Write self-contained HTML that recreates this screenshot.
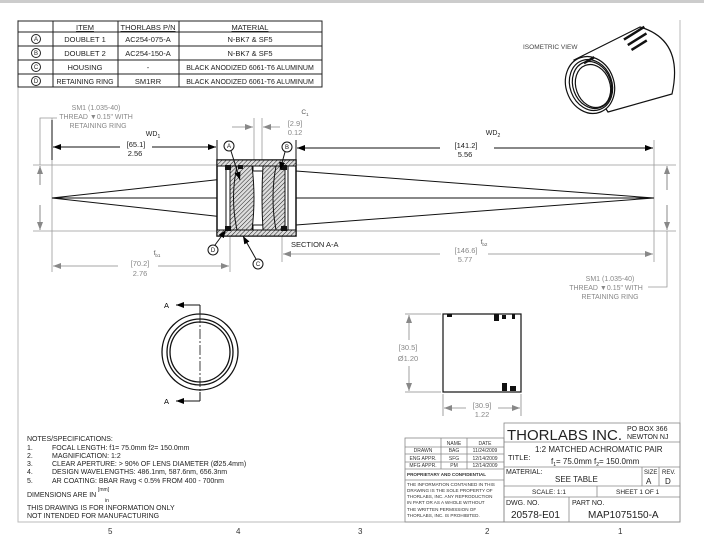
<!DOCTYPE html>
<html><head><meta charset="utf-8"><style>
html,body{margin:0;padding:0;background:#fff;}
svg{display:block;font-family:"Liberation Sans",sans-serif;}
</style></head><body>
<svg width="704" height="543" viewBox="0 0 704 543" xmlns="http://www.w3.org/2000/svg">
<defs>
<pattern id="h" width="3" height="3" patternUnits="userSpaceOnUse" patternTransform="rotate(45)">
<rect width="3" height="3" fill="#ddd"/><line x1="0" y1="0" x2="0" y2="3" stroke="#222" stroke-width="1"/></pattern>
<marker id="ab" markerWidth="8" markerHeight="6" refX="8" refY="3" orient="auto" markerUnits="userSpaceOnUse"><path d="M0,0 L8,3 L0,6z" fill="#000"/></marker>
<marker id="ag" markerWidth="8" markerHeight="6" refX="8" refY="3" orient="auto" markerUnits="userSpaceOnUse"><path d="M0,0 L8,3 L0,6z" fill="#888"/></marker>
</defs>
<rect x="0" y="0" width="704" height="3" fill="#ccc"/>
<!-- frame -->
<path d="M18,20 V522 H680 V20" fill="none" stroke="#bbb" stroke-width="1"/>
<g font-size="8" fill="#333"><text x="108" y="534">5</text><text x="236" y="534">4</text><text x="358" y="534">3</text><text x="485" y="534">2</text><text x="618" y="534">1</text></g>

<!-- parts table -->
<g stroke="#222" stroke-width="1" fill="none">
<rect x="18" y="21" width="304" height="66"/>
<line x1="18" y1="32" x2="322" y2="32"/><line x1="18" y1="46" x2="322" y2="46"/><line x1="18" y1="60" x2="322" y2="60"/><line x1="18" y1="74" x2="322" y2="74"/>
<line x1="53" y1="21" x2="53" y2="87"/><line x1="118" y1="21" x2="118" y2="87"/><line x1="179" y1="21" x2="179" y2="87"/>
<circle cx="36" cy="39" r="4.5"/><circle cx="36" cy="53" r="4.5"/><circle cx="36" cy="67" r="4.5"/><circle cx="36" cy="81" r="4.5"/>
</g>
<g font-size="7.5" fill="#222" text-anchor="middle">
<text x="85" y="30" text-decoration="underline">ITEM</text><text x="148" y="30" text-decoration="underline">THORLABS P/N</text><text x="250" y="30" text-decoration="underline">MATERIAL</text>
<text x="85" y="42">DOUBLET 1</text><text x="148" y="42">AC254-075-A</text><text x="250" y="42">N-BK7 &amp; SF5</text>
<text x="85" y="56">DOUBLET 2</text><text x="148" y="56">AC254-150-A</text><text x="250" y="56">N-BK7 &amp; SF5</text>
<text x="85" y="70">HOUSING</text><text x="148" y="70">-</text><text x="250" y="70" font-size="7">BLACK ANODIZED 6061-T6 ALUMINUM</text>
<text x="85" y="84" font-size="7">RETAINING RING</text><text x="148" y="84">SM1RR</text><text x="250" y="84" font-size="7">BLACK ANODIZED 6061-T6 ALUMINUM</text>
<g font-size="6"><text x="36" y="41">A</text><text x="36" y="55">B</text><text x="36" y="69">C</text><text x="36" y="83">D</text></g>
</g>

<!-- isometric -->
<text x="523" y="49" font-size="6.5" fill="#444">ISOMETRIC VIEW</text>
<g stroke="#111" fill="#fff" stroke-width="1.2">
<path d="M574,60 L640,27 Q684,40 672,94 L608,112 Z"/>
<ellipse cx="590" cy="85" rx="24" ry="29" transform="rotate(-20 590 85)"/>
<ellipse cx="591" cy="85" rx="21" ry="26" transform="rotate(-20 591 85)"/>
<ellipse cx="592" cy="85" rx="19" ry="24" transform="rotate(-20 592 85)"/>
<ellipse cx="593" cy="86" rx="17" ry="22" transform="rotate(-20 593 86)"/>
</g>
<g fill="#111">
<rect x="622" y="32" width="24" height="2.5" transform="rotate(-32 634 33)"/>
<rect x="626" y="38" width="22" height="2.5" transform="rotate(-32 637 39)"/>
<rect x="630" y="44" width="18" height="2.5" transform="rotate(-32 639 45)"/>
<rect x="583" y="59" width="12" height="2.5" transform="rotate(-30 589 60)"/>
</g>

<!-- main section lines -->
<g stroke="#999" stroke-width="0.8">
<line x1="33" y1="165" x2="676" y2="165"/><line x1="33" y1="231" x2="676" y2="231"/>
<line x1="52" y1="118" x2="52" y2="272"/><line x1="654" y1="140" x2="654" y2="262"/>
<line x1="230" y1="236" x2="230" y2="272"/><line x1="282" y1="236" x2="282" y2="262"/>
<line x1="254" y1="118" x2="254" y2="165"/><line x1="262" y1="118" x2="262" y2="165"/>
<path d="M57,118 H40 V165" fill="none"/>
<path d="M648,287 H667 V231" fill="none"/>
</g>
<line x1="40" y1="185" x2="40" y2="166" stroke="#888" marker-end="url(#ag)"/>
<line x1="40" y1="205" x2="40" y2="230" stroke="#888" marker-end="url(#ag)"/>
<line x1="667" y1="190" x2="667" y2="166" stroke="#888" marker-end="url(#ag)"/>
<line x1="667" y1="205" x2="667" y2="230" stroke="#888" marker-end="url(#ag)"/>
<!-- rays -->
<g stroke="#111" stroke-width="1" fill="none">
<line x1="52" y1="198" x2="654" y2="198"/>
<path d="M52,198 L296,171 L654,198 L296,225 Z"/>
</g>
<!-- WD1 / WD2 dims -->
<g stroke="#111" stroke-width="1">
<line x1="52" y1="120" x2="52" y2="160"/><line x1="217" y1="140" x2="217" y2="160"/>
<line x1="120" y1="147" x2="53" y2="147" marker-end="url(#ab)"/><line x1="152" y1="147" x2="216" y2="147" marker-end="url(#ab)"/>
<line x1="296" y1="140" x2="296" y2="160"/>
<line x1="440" y1="148" x2="297" y2="148" marker-end="url(#ab)"/><line x1="494" y1="148" x2="653" y2="148" marker-end="url(#ab)"/>
</g>
<g font-size="7.5" fill="#222" text-anchor="middle">
<text x="136" y="147">[65.1]</text><text x="135" y="156">2.56</text>
<text x="466" y="148">[141.2]</text><text x="465" y="157">5.56</text>
<text x="153" y="136" font-size="7">WD<tspan font-size="5" dy="2">1</tspan></text>
<text x="493" y="135" font-size="7">WD<tspan font-size="5" dy="2">2</tspan></text>
</g>
<!-- fb dims gray -->
<g stroke="#888" stroke-width="0.8">
<line x1="118" y1="266" x2="53" y2="266" marker-end="url(#ag)"/><line x1="158" y1="266" x2="229" y2="266" marker-end="url(#ag)"/>
<line x1="440" y1="254" x2="283" y2="254" marker-end="url(#ag)"/><line x1="488" y1="254" x2="653" y2="254" marker-end="url(#ag)"/>
<line x1="232" y1="127" x2="253" y2="127" marker-end="url(#ag)"/><line x1="280" y1="127" x2="263" y2="127" marker-end="url(#ag)"/>
</g>
<g font-size="7.5" fill="#888" text-anchor="middle">
<text x="140" y="266">[70.2]</text><text x="140" y="276">2.76</text>
<text x="466" y="253">[146.6]</text><text x="465" y="262">5.77</text>
<text x="295" y="126">[2.9]</text><text x="295" y="135">0.12</text>
<text x="96" y="110" font-size="7">SM1 (1.035-40)</text><text x="96" y="119" font-size="7">THREAD ▼0.15" WITH</text><text x="98" y="128" font-size="7">RETAINING RING</text>
<text x="610" y="281" font-size="7">SM1 (1.035-40)</text><text x="606" y="290" font-size="7">THREAD ▼0.15" WITH</text><text x="610" y="299" font-size="7">RETAINING RING</text>
</g>
<g font-size="6.5" fill="#555" text-anchor="middle"><text x="157" y="255">f<tspan font-size="4.5" dy="2">b1</tspan></text><text x="484" y="244">f<tspan font-size="4.5" dy="2">b2</tspan></text><text x="305" y="114">C<tspan font-size="4.5" dy="2">1</tspan></text></g>

<!-- housing section -->
<rect x="217" y="160" width="79" height="76" fill="#fff" stroke="#111" stroke-width="1.5"/>
<rect x="217" y="160" width="79" height="6" fill="url(#h)" stroke="#111"/>
<rect x="217" y="230" width="79" height="6" fill="url(#h)" stroke="#111"/>
<rect x="253" y="166" width="10" height="5" fill="#fff" stroke="#111"/>
<rect x="253" y="225" width="10" height="5" fill="#fff" stroke="#111"/>
<path d="M230,166 H252 Q256,198 252,230 H230 Z" fill="url(#h)" stroke="#111"/>
<path d="M263,166 H285 V230 H263 Q261,198 263,166 Z" fill="url(#h)" stroke="#111"/>
<path d="M237,166 Q230,198 237,230 M276,166 Q270,198 276,230" fill="none" stroke="#111"/>
<line x1="226" y1="166" x2="226" y2="230" stroke="#111"/><line x1="288" y1="166" x2="288" y2="230" stroke="#111"/>
<g fill="#111"><rect x="225" y="165" width="6" height="5"/><rect x="225" y="226" width="6" height="5"/><rect x="281" y="165" width="6" height="5"/><rect x="281" y="226" width="6" height="5"/><rect x="238" y="165" width="5" height="4"/></g>
<g stroke="#111" fill="#fff">
<circle cx="229" cy="146" r="5"/><circle cx="287" cy="147" r="5"/><circle cx="213" cy="250" r="5"/><circle cx="258" cy="264" r="5"/>
<line x1="231" y1="151" x2="240" y2="180" marker-end="url(#ab)"/><line x1="285" y1="152" x2="280" y2="170" marker-end="url(#ab)"/>
<line x1="215" y1="245" x2="226" y2="230" marker-end="url(#ab)"/><line x1="256" y1="259" x2="243" y2="236" marker-end="url(#ab)"/>
</g>
<g font-size="6" text-anchor="middle" fill="#111"><text x="229" y="148">A</text><text x="287" y="149">B</text><text x="213" y="252">D</text><text x="258" y="266">C</text></g>
<text x="291" y="247" font-size="7.5" fill="#222">SECTION A-A</text>

<!-- front ring view -->
<g stroke="#111" fill="none" stroke-width="1.3">
<circle cx="200" cy="352" r="38"/><circle cx="200" cy="352" r="33"/><circle cx="200" cy="352" r="30"/>
<path d="M200,305 V313 M200,392 V401" stroke-width="1"/>
<line x1="200" y1="313" x2="200" y2="392" stroke-width="0.8" stroke-dasharray="10,2,2,2"/>
<line x1="200" y1="305" x2="176" y2="305" stroke-width="1" marker-end="url(#ab)"/>
<line x1="200" y1="401" x2="176" y2="401" stroke-width="1" marker-end="url(#ab)"/>
</g>
<text x="164" y="308" font-size="7.5">A</text><text x="164" y="404" font-size="7.5">A</text>

<!-- side view -->
<rect x="443" y="314" width="78" height="78" fill="#fff" stroke="#111" stroke-width="1.2"/>
<g fill="#111"><rect x="447" y="314" width="5" height="3"/><rect x="494" y="314" width="5" height="7"/><rect x="502" y="315" width="4" height="4"/><rect x="512" y="314" width="3" height="5"/><rect x="502" y="383" width="5" height="8"/><rect x="510" y="386" width="6" height="5"/></g>
<g stroke="#888" stroke-width="0.8">
<line x1="405" y1="314" x2="441" y2="314"/><line x1="405" y1="392" x2="441" y2="392"/>
<line x1="443" y1="394" x2="443" y2="416"/><line x1="521" y1="394" x2="521" y2="416"/>
<line x1="409" y1="340" x2="409" y2="315" marker-end="url(#ag)"/><line x1="409" y1="366" x2="409" y2="391" marker-end="url(#ag)"/>
<line x1="466" y1="408" x2="444" y2="408" marker-end="url(#ag)"/><line x1="498" y1="408" x2="520" y2="408" marker-end="url(#ag)"/>
</g>
<g font-size="7.5" fill="#888" text-anchor="middle"><text x="408" y="350">[30.5]</text><text x="408" y="361">Ø1.20</text><text x="482" y="408">[30.9]</text><text x="482" y="417">1.22</text></g>

<!-- notes -->
<g font-size="7" fill="#222">
<text x="27" y="441">NOTES/SPECIFICATIONS:</text>
<text x="27" y="450">1.</text><text x="52" y="450">FOCAL LENGTH: f1= 75.0mm   f2= 150.0mm</text>
<text x="27" y="458">2.</text><text x="52" y="458">MAGNIFICATION:  1:2</text>
<text x="27" y="466">3.</text><text x="52" y="466">CLEAR APERTURE: &gt; 90% OF LENS DIAMETER (Ø25.4mm)</text>
<text x="27" y="474">4.</text><text x="52" y="474">DESIGN WAVELENGTHS: 486.1nm, 587.6nm, 656.3nm</text>
<text x="27" y="483">5.</text><text x="52" y="483">AR COATING: BBAR Ravg &lt; 0.5% FROM 400 - 700nm</text>
<text x="27" y="497">DIMENSIONS ARE IN</text><text x="98" y="491" font-size="5">[mm]</text><text x="105" y="502" font-size="5">in</text>
<text x="27" y="510">THIS DRAWING IS FOR INFORMATION ONLY</text>
<text x="27" y="518">NOT INTENDED FOR MANUFACTURING</text>
</g>

<!-- title block -->
<g stroke="#888" stroke-width="0.8" fill="none">
<rect x="405" y="438" width="99" height="84"/>
<line x1="405" y1="447" x2="504" y2="447"/><line x1="405" y1="454" x2="504" y2="454"/><line x1="405" y1="462" x2="504" y2="462"/><line x1="405" y1="469" x2="504" y2="469"/><line x1="405" y1="480" x2="504" y2="480"/>
<line x1="441" y1="438" x2="441" y2="469"/><line x1="467" y1="438" x2="467" y2="469"/>
<rect x="504" y="423" width="176" height="99"/>
<line x1="504" y1="442" x2="680" y2="442"/><line x1="504" y1="467" x2="680" y2="467"/><line x1="504" y1="486" x2="680" y2="486"/><line x1="504" y1="497" x2="680" y2="497"/>
<line x1="642" y1="467" x2="642" y2="486"/><line x1="659" y1="467" x2="659" y2="486"/><line x1="597" y1="486" x2="597" y2="497"/><line x1="569" y1="497" x2="569" y2="522"/>
</g>
<g font-size="5" fill="#333" text-anchor="middle">
<text x="454" y="445">NAME</text><text x="485" y="445">DATE</text>
<text x="423" y="452">DRAWN</text><text x="454" y="452">BAG</text><text x="485" y="452">11/24/2009</text>
<text x="423" y="460">ENG APPR.</text><text x="454" y="460">SFG</text><text x="485" y="460">12/14/2009</text>
<text x="423" y="467">MFG APPR.</text><text x="454" y="467">PM</text><text x="485" y="467">12/14/2009</text>
</g>
<g font-size="4.6" fill="#333">
<text x="407" y="476" font-weight="bold">PROPRIETARY AND CONFIDENTIAL</text>
<text x="407" y="486">THE INFORMATION CONTAINED IN THIS</text><text x="407" y="492">DRAWING IS THE SOLE PROPERTY OF</text><text x="407" y="498">THORLABS, INC.  ANY REPRODUCTION</text><text x="407" y="504">IN PART OR AS A WHOLE WITHOUT</text><text x="407" y="511">THE WRITTEN PERMISSION OF</text><text x="407" y="517">THORLABS, INC. IS PROHIBITED.</text>
</g>
<g fill="#222">
<text x="507" y="440" font-size="15">THORLABS INC.</text>
<text x="627" y="431" font-size="7">PO BOX 366</text><text x="627" y="439" font-size="7">NEWTON NJ</text>
<text x="508" y="460" font-size="7.5">TITLE:</text>
<text x="535" y="452" font-size="8">1:2 MATCHED ACHROMATIC PAIR</text>
<text x="551" y="464" font-size="8">f<tspan font-size="5" dy="2">1</tspan><tspan dy="-2">= 75.0mm  f</tspan><tspan font-size="5" dy="2">2</tspan><tspan dy="-2">= 150.0mm</tspan></text>
<text x="506" y="474" font-size="7">MATERIAL:</text>
<text x="555" y="482" font-size="8">SEE TABLE</text>
<text x="644" y="474" font-size="6">SIZE</text><text x="662" y="474" font-size="6">REV.</text>
<text x="646" y="484" font-size="8">A</text><text x="665" y="484" font-size="8">D</text>
<text x="532" y="494" font-size="6.5">SCALE: 1:1</text><text x="616" y="494" font-size="6.5">SHEET 1 OF 1</text>
<text x="506" y="505" font-size="7">DWG.  NO.</text><text x="572" y="505" font-size="7">PART  NO.</text>
<text x="511" y="518" font-size="10">20578-E01</text><text x="588" y="518" font-size="10">MAP1075150-A</text>
</g>
</svg>
</body></html>
